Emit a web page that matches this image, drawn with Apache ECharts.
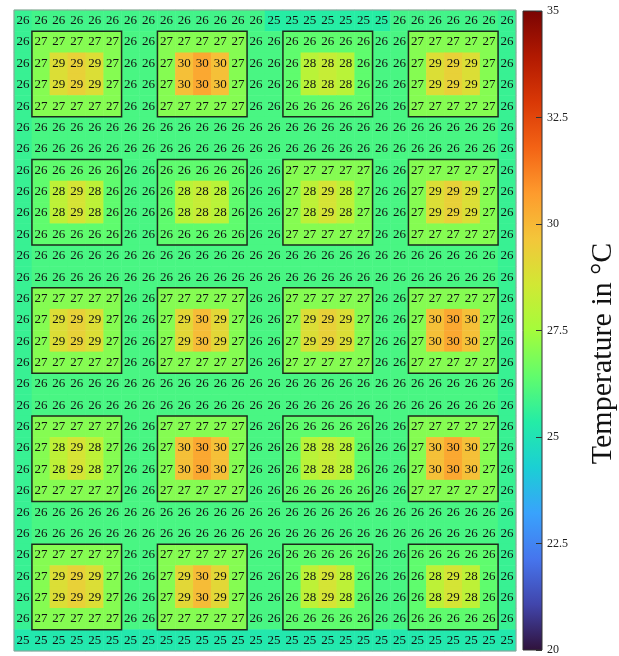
<!DOCTYPE html>
<html>
<head>
<meta charset="utf-8">
<script src="https://cdn.jsdelivr.net/npm/echarts@6/dist/echarts.min.js"></script>
<style>html,body{margin:0;padding:0;background:#fff}#c{width:619px;height:656px}</style>
</head>
<body>
<div id="c"></div>
<script>
// Temperature field (°C), rows top -> bottom, 28 columns each
const temps = [
  [25.7,25.9,25.9,25.9,25.9,25.9,25.9,25.9,25.9,25.9,25.9,25.9,25.9,25.9,25.4,25.4,25.4,25.4,25.4,25.4,25.4,25.9,25.9,25.9,25.9,25.9,25.9,25.7],
  [25.7,27,27,27,27,27,26.0,26.0,27,27,27,27,27,26.0,26.0,26.4,26.4,26.4,26.4,26.4,26.0,26.0,27,27,27,27,27,25.7],
  [25.7,27,28.9,29.3,28.9,27,26.0,26.0,27,29.8,30.4,29.8,27,26.0,26.0,26.4,28.0,28.3,28.0,26.4,26.0,26.0,27,28.9,29.3,28.9,27,25.7],
  [25.7,27,28.9,29.3,28.9,27,26.0,26.0,27,29.8,30.4,29.8,27,26.0,26.0,26.4,28.0,28.3,28.0,26.4,26.0,26.0,27,28.9,29.3,28.9,27,25.7],
  [25.7,27,27,27,27,27,26.0,26.0,27,27,27,27,27,26.0,26.0,26.4,26.4,26.4,26.4,26.4,26.0,26.0,27,27,27,27,27,25.7],
  [25.7,26.0,26.0,26.0,26.0,26.0,26.0,26.0,26.0,26.0,26.0,26.0,26.0,26.0,26.0,26.0,26.0,26.0,26.0,26.0,26.0,26.0,26.0,26.0,26.0,26.0,26.0,25.7],
  [25.7,26.0,26.0,26.0,26.0,26.0,26.0,26.0,26.0,26.0,26.0,26.0,26.0,26.0,26.0,26.0,26.0,26.0,26.0,26.0,26.0,26.0,26.0,26.0,26.0,26.0,26.0,25.7],
  [25.7,26.4,26.4,26.4,26.4,26.4,26.0,26.0,26.4,26.4,26.4,26.4,26.4,26.0,26.0,27,27,27,27,27,26.0,26.0,27,27,27,27,27,25.7],
  [25.7,26.4,28.1,28.7,28.1,26.4,26.0,26.0,26.4,28.0,28.3,28.0,26.4,26.0,26.0,27,28.1,28.7,28.1,27,26.0,26.0,27,28.9,29.3,28.9,27,25.7],
  [25.7,26.4,28.1,28.7,28.1,26.4,26.0,26.0,26.4,28.0,28.3,28.0,26.4,26.0,26.0,27,28.1,28.7,28.1,27,26.0,26.0,27,28.9,29.3,28.9,27,25.7],
  [25.7,26.4,26.4,26.4,26.4,26.4,26.0,26.0,26.4,26.4,26.4,26.4,26.4,26.0,26.0,27,27,27,27,27,26.0,26.0,27,27,27,27,27,25.7],
  [25.7,26.0,26.0,26.0,26.0,26.0,26.0,26.0,26.0,26.0,26.0,26.0,26.0,26.0,26.0,26.0,26.0,26.0,26.0,26.0,26.0,26.0,26.0,26.0,26.0,26.0,26.0,25.7],
  [25.7,26.0,26.0,26.0,26.0,26.0,26.0,26.0,26.0,26.0,26.0,26.0,26.0,26.0,26.0,26.0,26.0,26.0,26.0,26.0,26.0,26.0,26.0,26.0,26.0,26.0,26.0,25.7],
  [25.7,27,27,27,27,27,26.0,26.0,27,27,27,27,27,26.0,26.0,27,27,27,27,27,26.0,26.0,27,27,27,27,27,25.7],
  [25.7,27,28.9,29.3,28.9,27,26.0,26.0,27,29.1,29.9,29.1,27,26.0,26.0,27,28.9,29.3,28.9,27,26.0,26.0,27,29.8,30.4,29.8,27,25.7],
  [25.7,27,28.9,29.3,28.9,27,26.0,26.0,27,29.1,29.9,29.1,27,26.0,26.0,27,28.9,29.3,28.9,27,26.0,26.0,27,29.8,30.4,29.8,27,25.7],
  [25.7,27,27,27,27,27,26.0,26.0,27,27,27,27,27,26.0,26.0,27,27,27,27,27,26.0,26.0,27,27,27,27,27,25.7],
  [25.7,26.0,26.0,26.0,26.0,26.0,26.0,26.0,26.0,26.0,26.0,26.0,26.0,26.0,26.0,26.0,26.0,26.0,26.0,26.0,26.0,26.0,26.0,26.0,26.0,26.0,26.0,25.7],
  [25.7,26.0,26.0,26.0,26.0,26.0,26.0,26.0,26.0,26.0,26.0,26.0,26.0,26.0,26.0,26.0,26.0,26.0,26.0,26.0,26.0,26.0,26.0,26.0,26.0,26.0,26.0,25.7],
  [25.7,27,27,27,27,27,26.0,26.0,27,27,27,27,27,26.0,26.0,26.4,26.4,26.4,26.4,26.4,26.0,26.0,27,27,27,27,27,25.7],
  [25.7,27,28.1,28.7,28.1,27,26.0,26.0,27,29.8,30.4,29.8,27,26.0,26.0,26.4,28.0,28.3,28.0,26.4,26.0,26.0,27,29.8,30.4,29.8,27,25.7],
  [25.7,27,28.1,28.7,28.1,27,26.0,26.0,27,29.8,30.4,29.8,27,26.0,26.0,26.4,28.0,28.3,28.0,26.4,26.0,26.0,27,29.8,30.4,29.8,27,25.7],
  [25.7,27,27,27,27,27,26.0,26.0,27,27,27,27,27,26.0,26.0,26.4,26.4,26.4,26.4,26.4,26.0,26.0,27,27,27,27,27,25.7],
  [25.7,26.0,26.0,26.0,26.0,26.0,26.0,26.0,26.0,26.0,26.0,26.0,26.0,26.0,26.0,26.0,26.0,26.0,26.0,26.0,26.0,26.0,26.0,26.0,26.0,26.0,26.0,25.7],
  [25.7,26.0,26.0,26.0,26.0,26.0,26.0,26.0,26.0,26.0,26.0,26.0,26.0,26.0,26.0,26.0,26.0,26.0,26.0,26.0,26.0,26.0,26.0,26.0,26.0,26.0,26.0,25.7],
  [25.7,27,27,27,27,27,26.0,26.0,27,27,27,27,27,26.0,26.0,26.4,26.4,26.4,26.4,26.4,26.0,26.0,26.4,26.4,26.4,26.4,26.4,25.7],
  [25.7,27,28.9,29.3,28.9,27,26.0,26.0,27,29.1,29.9,29.1,27,26.0,26.0,26.4,28.1,28.7,28.1,26.4,26.0,26.0,26.4,28.1,28.7,28.1,26.4,25.7],
  [25.7,27,28.9,29.3,28.9,27,26.0,26.0,27,29.1,29.9,29.1,27,26.0,26.0,26.4,28.1,28.7,28.1,26.4,26.0,26.0,26.4,28.1,28.7,28.1,26.4,25.7],
  [25.7,27,27,27,27,27,26.0,26.0,27,27,27,27,27,26.0,26.0,26.4,26.4,26.4,26.4,26.4,26.0,26.0,26.4,26.4,26.4,26.4,26.4,25.7],
  [25.2,25.2,25.2,25.2,25.2,25.2,25.2,25.2,25.2,25.2,25.2,25.2,25.2,25.2,25.2,25.2,25.2,25.2,25.2,25.2,25.2,25.2,25.2,25.2,25.2,25.2,25.2,25.2]
];
// outlined blocks: first/last column index and first/last row index
const blockCols = [[1,5],[8,12],[15,19],[22,26]];
const blockRows = [[1,4],[7,10],[13,16],[19,22],[25,28]];
// colour scale
const tempMin = 20, tempMax = 35, tickStep = 2.5;
const turbo = ['#30123b','#4145ab','#4675ed','#39a2fc','#1bcfd4','#24eca6','#61fc6c','#a4fc3b','#d1e834','#f3c63a','#fe9b2d','#f36315','#d93806','#b11901','#7a0403'];
const barTitle = 'Temperature in °C';

const nRows = temps.length, nCols = temps[0].length;
const xCats = Array.from({length:nCols},(_,i)=>String(i));
const yCats = Array.from({length:nRows},(_,i)=>String(i));
const heat = [];
temps.forEach((row,r)=>row.forEach((v,c)=>heat.push([c,r,v])));
const boxes = [];
blockRows.forEach(br=>blockCols.forEach(bc=>boxes.push([bc[0],br[0],bc[1],br[1]])));

const FONT = 'Liberation Serif';
function rectItem(params, api, style){
  const p0 = api.coord([api.value(0), api.value(1)]);
  const p1 = api.coord([api.value(2), api.value(3)]);
  const s = api.size([1,1]);
  const x0 = Math.min(p0[0],p1[0]) - s[0]/2, x1 = Math.max(p0[0],p1[0]) + s[0]/2;
  const y0 = Math.min(p0[1],p1[1]) - s[1]/2, y1 = Math.max(p0[1],p1[1]) + s[1]/2;
  return {type:'rect', shape:{x:x0,y:y0,width:x1-x0,height:y1-y0}, style:style};
}

const chart = echarts.init(document.getElementById('c'), null, {renderer:'canvas'});
chart.setOption({
  animation:false,
  backgroundColor:'#fff',
  textStyle:{fontFamily:FONT},
  grid:[
    {left:14, top:10, width:502, height:641, containLabel:false, outerBoundsMode:'none'},
    {left:523, top:11, width:19, height:639, containLabel:false, outerBoundsMode:'none'}
  ],
  xAxis:[
    {type:'category', data:xCats, gridIndex:0, show:false},
    {type:'value', gridIndex:1, min:0, max:1, show:false}
  ],
  yAxis:[
    {type:'category', data:yCats, gridIndex:0, inverse:true, show:false},
    {type:'value', gridIndex:1, min:tempMin, max:tempMax, interval:tickStep, position:'right', z:10,
     axisLine:{show:false, onZero:false}, splitLine:{show:false},
     axisTick:{show:true, inside:true, length:6, lineStyle:{color:'#333', width:1}},
     axisLabel:{show:true, margin:5, fontFamily:FONT, fontSize:12, color:'#222'},
     name:barTitle, nameLocation:'middle', nameRotate:90, nameGap:46,
     nameTextStyle:{fontFamily:FONT, fontSize:30, color:'#111', padding:[0,46,0,0]}}
  ],
  visualMap:{show:false, type:'continuous', min:tempMin, max:tempMax, dimension:2, seriesIndex:0, inRange:{color:turbo}},
  series:[
    {type:'heatmap', xAxisIndex:0, yAxisIndex:0, data:heat,
     label:{show:true, formatter:p=>String(Math.round(p.value[2])), fontFamily:FONT, fontSize:13, color:'#111'},
     emphasis:{disabled:true}, itemStyle:{borderWidth:0}},
    {type:'custom', xAxisIndex:0, yAxisIndex:0, z:5, data:boxes, encode:{x:[0,2], y:[1,3]},
     renderItem:(params,api)=>rectItem(params,api,{fill:null, stroke:'#1c2a1c', lineWidth:1.5})},
    {type:'custom', xAxisIndex:0, yAxisIndex:0, z:5, data:[[0,0,nCols-1,nRows-1]], encode:{x:[0,2], y:[1,3]},
     renderItem:(params,api)=>rectItem(params,api,{fill:null, stroke:'#9a9a9a', lineWidth:1})},
    {type:'custom', xAxisIndex:1, yAxisIndex:1, z:1, data:[[tempMin,tempMax]],
     renderItem:(params,api)=>{
       const cs = params.coordSys;
       const yTop = api.coord([0, api.value(1)])[1];
       const yBot = api.coord([0, api.value(0)])[1];
       const stops = turbo.map((c,i)=>({offset:i/(turbo.length-1), color:c}));
       return {type:'rect', shape:{x:cs.x, y:yTop, width:cs.width, height:yBot-yTop},
               style:{fill:new echarts.graphic.LinearGradient(0,1,0,0,stops), stroke:'#333', lineWidth:1}};
     }}
  ]
});
</script>
</body>
</html>
